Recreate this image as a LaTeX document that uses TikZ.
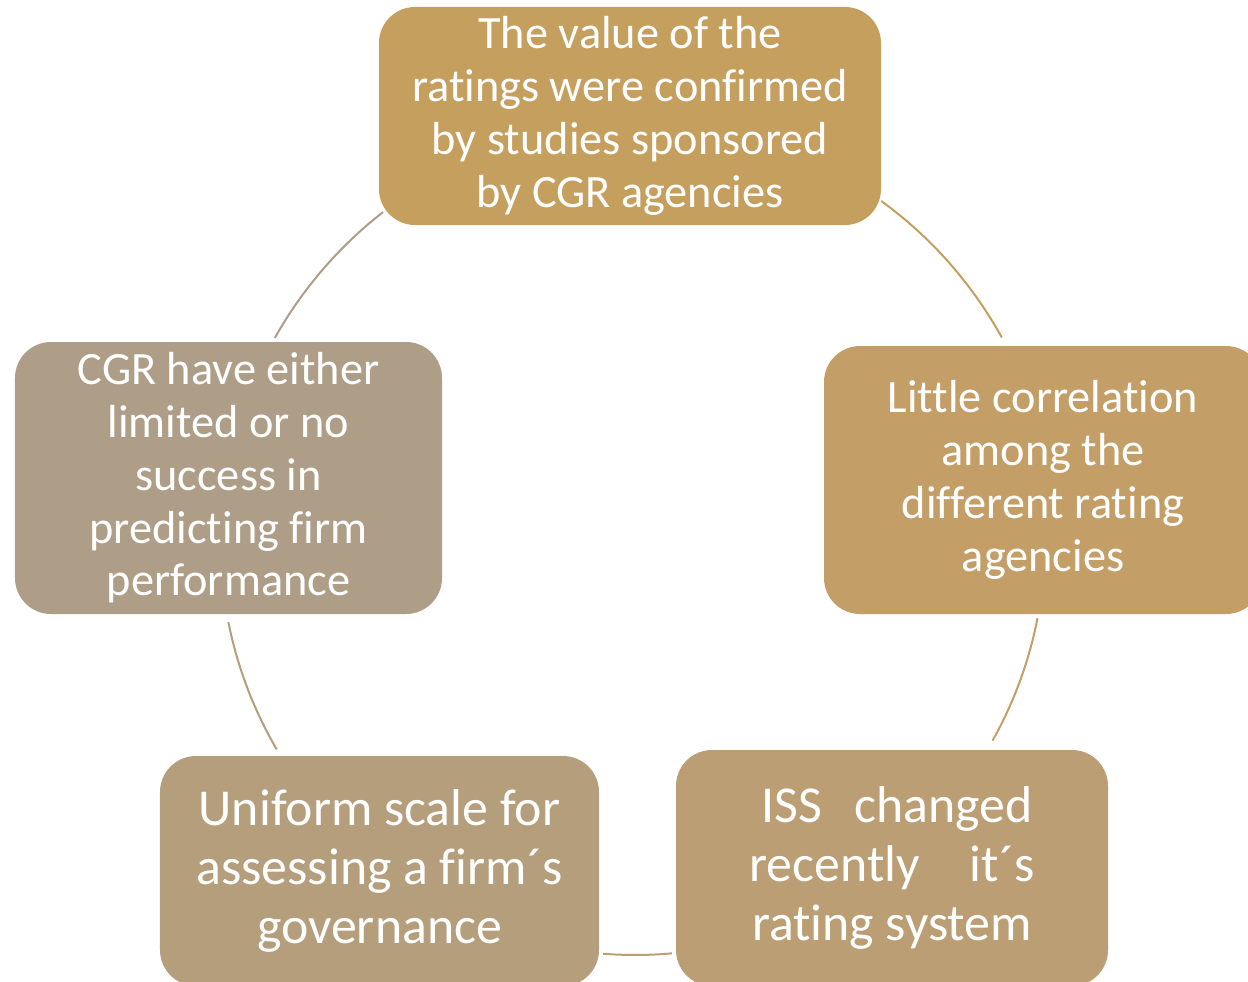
\documentclass[tikz,border=0pt]{standalone}
\usepackage{fontspec}
\setmainfont[RawFeature={-liga;-clig}]{Carlito}
\usetikzlibrary{calc}
\definecolor{cTop}{RGB}{197,159,94}
\definecolor{cRight}{RGB}{195,158,103}
\definecolor{cBR}{RGB}{187,158,116}
\definecolor{cBL}{RGB}{181,158,124}
\definecolor{cLeft}{RGB}{174,157,135}
\tikzset{
  box/.style={rectangle, rounded corners=36bp, inner sep=0pt, text=white, align=center},
  smalltext/.style={font=\fontsize{46.5}{53}\selectfont},
  bigtext/.style={font=\fontsize{52}{59}\selectfont},
  link/.style={line width=2bp}
}
\begin{document}
\begin{tikzpicture}[x=1bp,y=-1bp]
\useasboundingbox (0,0) rectangle (1248,982);
\node[box, smalltext, fill=cTop, minimum width=502bp, minimum height=218bp] (top) at (630,116)
  {The value of the\\ratings were confirmed\\by studies sponsored\\by CGR agencies};
\node[box, smalltext, fill=cRight, minimum width=438bp, minimum height=268bp] (right) at (1043,480)
  {Little correlation\\among the\\different rating\\agencies};
\node[box, bigtext, fill=cBR, minimum width=432bp, minimum height=236bp] (br) at (892,868)
  {\hspace{10bp}ISS\hspace{32bp}changed\\recently\hspace{50bp}it´s\\rating system\hspace{8bp}};
\node[box, bigtext, fill=cBL, minimum width=439bp, minimum height=230bp] (bl) at (379.5,871)
  {Uniform scale for\\assessing a firm´s\\governance};
\node[box, smalltext, fill=cLeft, minimum width=427bp, minimum height=272bp] (left) at (228.5,478)
  {CGR have either\\limited or no\\success in\\predicting firm\\performance};
\coordinate (c) at (635,540);
\coordinate (s1) at ($(c)+(306:419)$);
\coordinate (s2) at ($(c)+(11:410)$);
\coordinate (s3) at ($(c)+(84.9:415)$);
\coordinate (s4) at ($(c)+(149.7:415)$);
\coordinate (s5) at ($(c)+(209.3:413)$);
\draw[link, draw=cTop] (s1) arc[start angle=306, end angle=331.1, radius=419];
\draw[link, draw=cRight] (s2) arc[start angle=11, end angle=29.3, radius=410];
\draw[link, draw=cBR] (s3) arc[start angle=84.9, end angle=94.4, radius=415];
\draw[link, draw=cBL] (s4) arc[start angle=149.7, end angle=168.7, radius=412];
\draw[link, draw=cLeft] (s5) arc[start angle=209.3, end angle=232.1, radius=420];
\end{tikzpicture}
\end{document}
